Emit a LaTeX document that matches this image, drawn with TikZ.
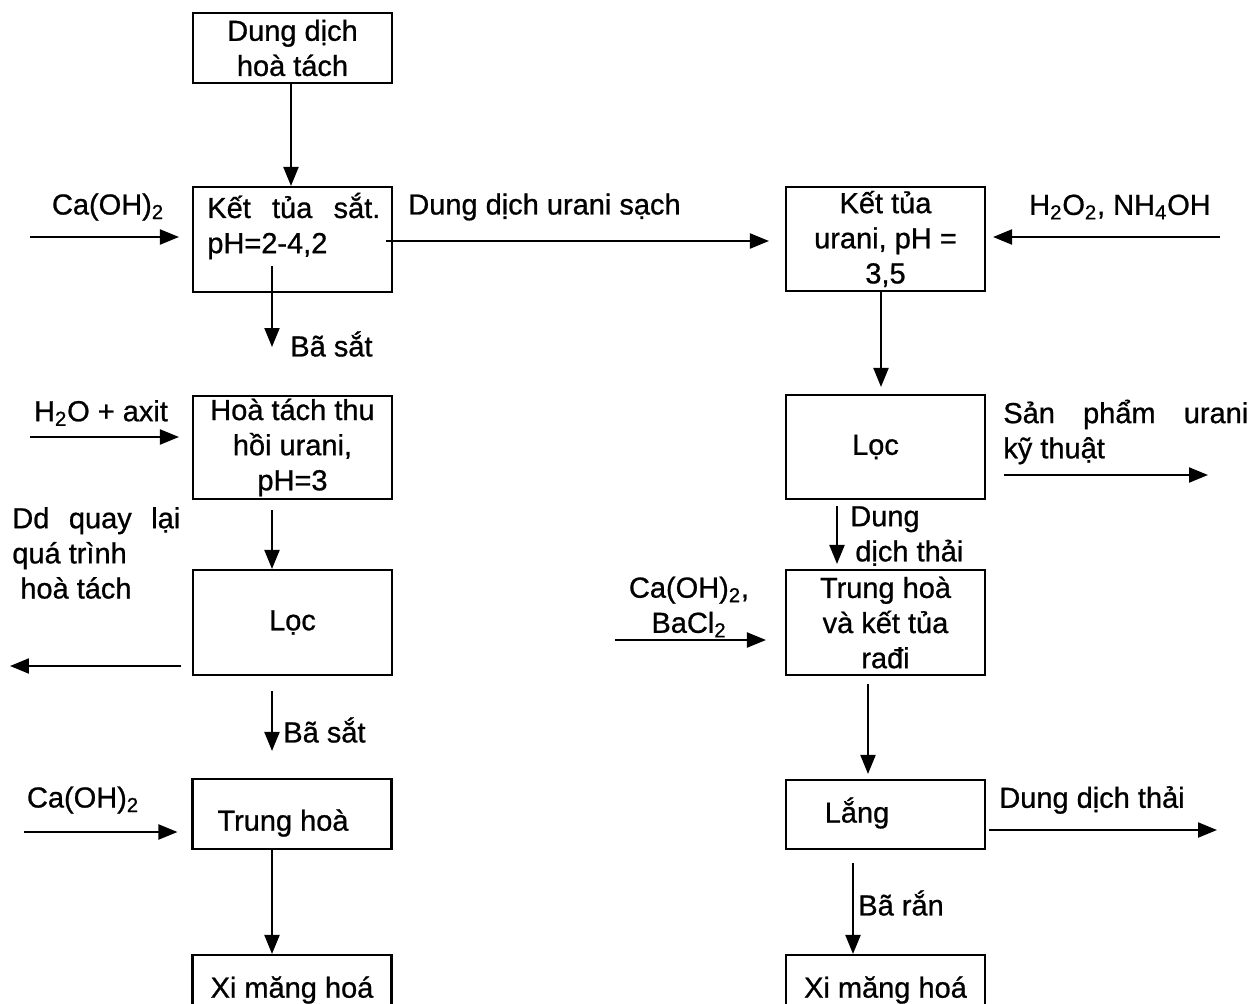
\documentclass[tikz,border=0pt]{standalone}
\usepackage{fontspec}
\setmainfont[FakeBold=0.8]{Liberation Sans}
\usetikzlibrary{arrows.meta}
\tikzset{>={Triangle[length=3.8mm,width=3mm]}}
\def\linethickness{1.2pt}
\tikzset{
  box/.style={draw, line width=\linethickness, minimum width=3.98cm, inner sep=0pt, align=center, font=\fontsize{16.5}{20}\selectfont},
  lbl/.style={inner sep=0pt, align=left, font=\fontsize{16.5}{20}\selectfont},
  flow/.style={->, line width=\linethickness}
}

\begin{document}
\begin{tikzpicture}[x=0.02cm, y=-0.02cm]
    \useasboundingbox (0,0) rectangle (1251,1004);
    % left column
    \node[box, minimum height=1.4cm] (a) at (292.5,48) {Dung dịch\\hoà tách};
    \node[box, minimum height=2.1cm] (b) at (292.5,239.5) {};
    \node[lbl, anchor=west] (bt) at (207,226) {\makebox[3.46cm][s]{Kết tủa sắt.}\\pH=2-4,2};
    \node[box, minimum height=2.06cm] (c) at (292.5,447.5) {Hoà tách thu\\hồi urani,\\pH=3};
    \node[box, minimum height=2.1cm] (d) at (292.5,622.5) {Lọc};
    \node[box, minimum height=1.4cm] (e) at (292,814) {};
    \node[lbl] (et) at (283,823) {Trung hoà};
    \node[box, minimum height=1.4cm] (f) at (292,990) {Xi măng hoá};
    % right column
    \node[box, minimum height=2.08cm] (g) at (885.5,239) {Kết tủa\\urani, pH =\\3,5};
    \node[box, minimum height=2.08cm] (h) at (885.5,447) {\hspace*{-0.4cm}Lọc};
    \node[box, minimum height=2.1cm] (i) at (885.5,622.5) {Trung hoà\\và kết tủa\\rađi};
    \node[box, minimum height=1.38cm] (j) at (885.5,814.5) {};
    \node[lbl] (jt) at (857,813) {Lắng};
    \node[box, minimum height=1.4cm] (k) at (885.5,990) {Xi măng hoá};

    % labels
    \node[lbl] (l1) at (108,207) {Ca(OH)\textsubscript{2}};
    \node[lbl, anchor=west] (l2) at (408,207) {Dung dịch urani sạch};
    \node[lbl] (l3) at (1120,207) {H\textsubscript{2}O\textsubscript{2}, NH\textsubscript{4}OH};
    \node[lbl, anchor=west] (l4) at (290,344) {Bã sắt};
    \node[lbl] (l5) at (101,413) {H\textsubscript{2}O + axit};
    \node[lbl, anchor=west] (l6) at (12,553) {\makebox[3.36cm][s]{Dd quay lại}\\quá trình\\\hspace*{0.16cm}hoà tách};
    \node[lbl, anchor=west] (l7) at (283,730) {Bã sắt};
    \node[lbl] (l8) at (83,800) {Ca(OH)\textsubscript{2}};
    \node[lbl, anchor=west] (l9) at (1003,432) {\makebox[4.9cm][s]{Sản phẩm urani}\\kỹ thuật};
    \node[lbl, anchor=west] (l10) at (850,536) {Dung\\\hspace*{0.1cm}dịch thải};
    \node[lbl, align=center] (l11) at (689,607) {Ca(OH)\textsubscript{2},\\BaCl\textsubscript{2}};
    \node[lbl, anchor=west] (l12) at (999,800) {Dung dịch thải};
    \node[lbl, anchor=west] (l13) at (858,903) {Bã rắn};

    % columns and free ends
    \coordinate (xa) at (291,0);
    \coordinate (xl) at (272,0);
    \coordinate (xg) at (881,0);
    \coordinate (xh) at (837,0);
    \coordinate (xi) at (868,0);
    \coordinate (xj) at (853,0);
    \coordinate (yu) at (0,241);
    \coordinate (ca) at (30,237);
    \coordinate (hn) at (1220,237);
    \coordinate (bs) at (272,347);
    \coordinate (ax) at (30,437);
    \coordinate (dq) at (10,666);
    \coordinate (ce) at (24,832);
    \coordinate (sp) at (1208,475);
    \coordinate (cb) at (615,640);
    \coordinate (dt) at (1217,830);

    \draw[flow] (a.south -| xa) -- (b.north -| xa);
    \draw[flow, shorten >=0.26cm] (ca) -- (ca -| b.west);
    \draw[flow, shorten <=-0.14cm, shorten >=0.32cm] (b.east |- yu) -- (g.west |- yu);
    \draw[flow, shorten >=0.14cm] (hn) -- (hn -| g.east);
    \draw[flow, shorten <=-0.54cm] (b.south -| bs) -- (bs);
    \draw[flow, shorten >=0.26cm] (ax) -- (ax -| c.west);
    \draw[flow, shorten <=0.2cm] (c.south -| xl) -- (d.north -| xl);
    \draw[flow, shorten <=0.22cm] (dq -| d.west) -- (dq);
    \draw[flow, shorten <=0.3cm, shorten >=0.54cm] (d.south -| xl) -- (e.north -| xl);
    \draw[flow, shorten >=0.28cm] (ce) -- (ce -| e.west);
    \draw[flow] (e.south -| xl) -- (f.north -| xl);
    \draw[flow, shorten >=0.14cm] (g.south -| xg) -- (h.north -| xg);
    \draw[flow, shorten <=0.36cm] (sp -| h.east) -- (sp);
    \draw[flow, shorten <=0.12cm, shorten >=0.1cm] (h.south -| xh) -- (i.north -| xh);
    \draw[flow, shorten >=0.38cm] (cb) -- (cb -| i.west);
    \draw[flow, shorten <=0.16cm, shorten >=0.1cm] (i.south -| xi) -- (j.north -| xi);
    \draw[flow, shorten <=0.06cm] (dt -| j.east) -- (dt);
    \draw[flow, shorten <=0.26cm] (j.south -| xj) -- (k.north -| xj);
\end{tikzpicture}
\end{document}
